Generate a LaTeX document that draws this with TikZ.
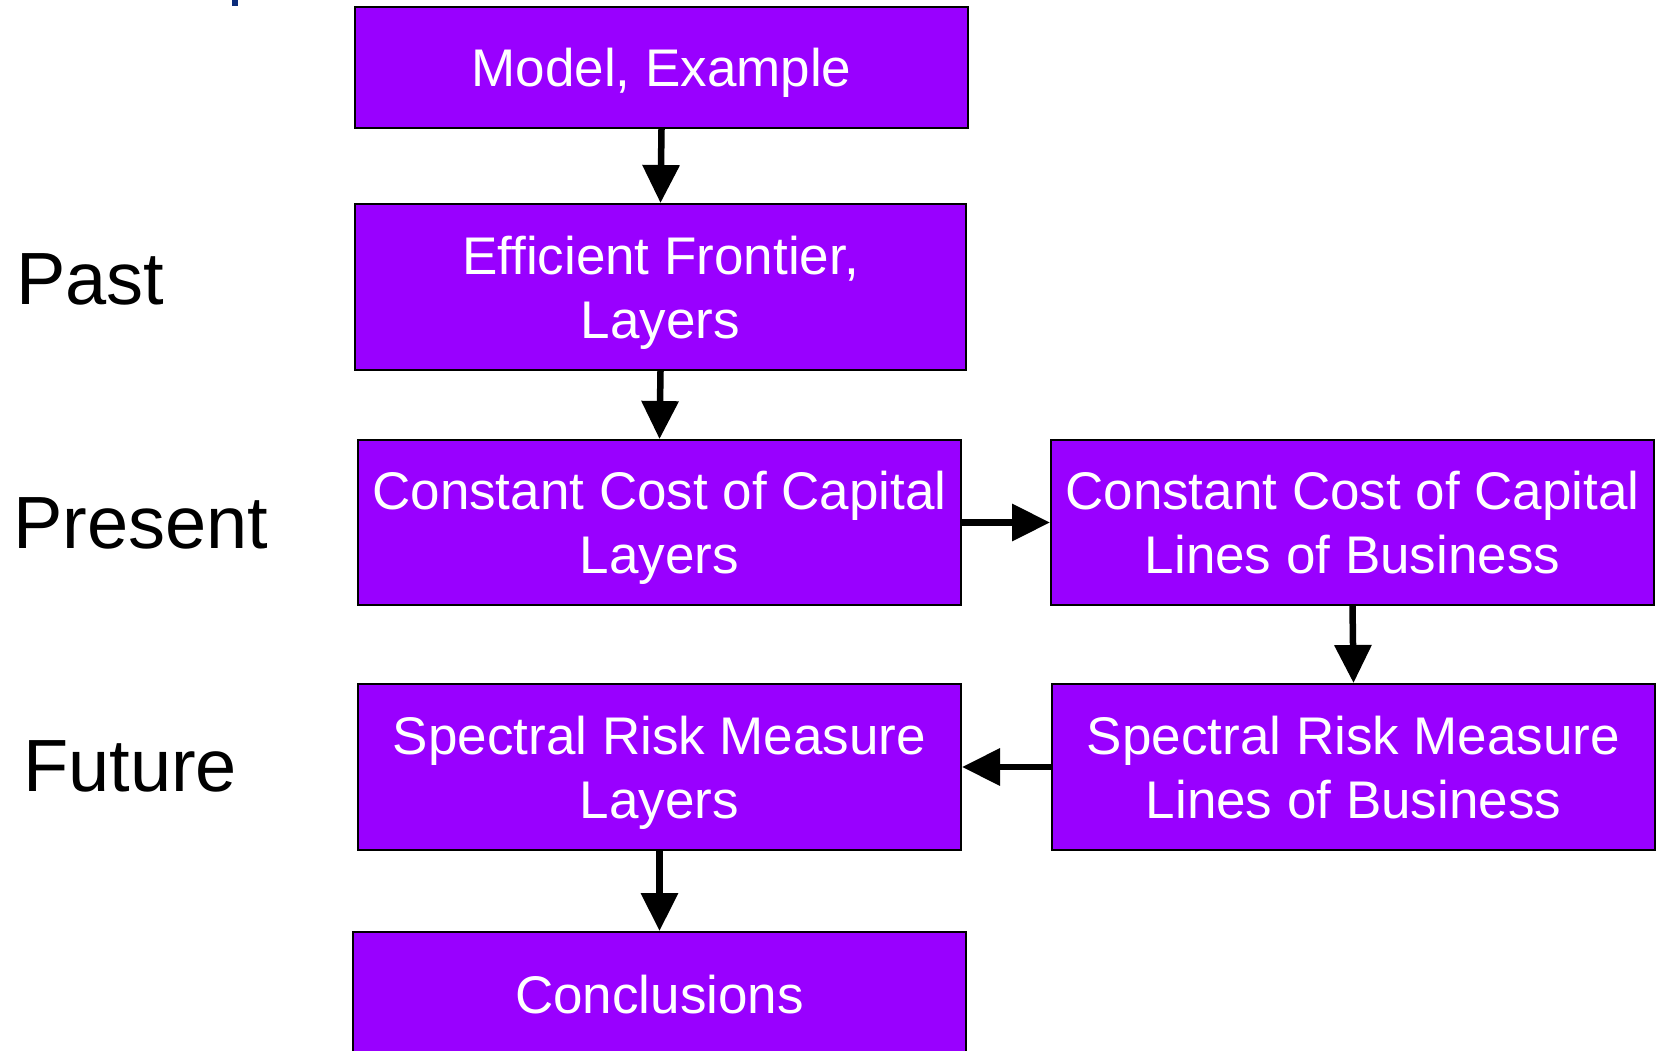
\documentclass[tikz,border=0pt]{standalone}
\usepackage{fontspec}
\setmainfont{Liberation Sans}
\usetikzlibrary{arrows.meta}
\definecolor{boxviolet}{HTML}{9900FF}
\definecolor{titlenavy}{HTML}{0B2C7A}
\begin{document}
\begin{tikzpicture}[x=1pt,y=-1pt,
  stagebox/.style={draw=black,line width=2pt,fill=boxviolet,text=white,
    inner sep=0pt,align=center,text depth=0pt,font=\fontsize{53}{64}\selectfont},
  era/.style={anchor=base west,inner sep=0pt,font=\fontsize{74}{80}\selectfont},
  flow/.style={line width=6.5pt,-{Triangle[length=38pt,width=36pt]}}]
\useasboundingbox (0,0) rectangle (1661,1051);
% fragment of the slide title above the chart
\fill[titlenavy] (232,0) rectangle (238,6.5);

% stages
\node[stagebox,minimum width=613pt,minimum height=121pt] (model) at (661.5,67.7) {Model, Example};
\node[stagebox,minimum width=611pt,minimum height=166pt] (frontier) at (660.5,287) {Efficient Frontier,\\Layers};
\node[stagebox,minimum width=603pt,minimum height=165pt] (ccclay) at (659.5,522.5) {Constant Cost of Capital\\Layers};
\node[stagebox,minimum width=603pt,minimum height=165pt] (ccclob) at (1352.5,522.5) {Constant Cost of Capital\\Lines of Business};
\node[stagebox,minimum width=603pt,minimum height=166pt] (srmlob) at (1353.5,767) {Spectral Risk Measure\\Lines of Business};
\node[stagebox,minimum width=603pt,minimum height=166pt] (srmlay) at (659.5,767) {Spectral Risk Measure\\Layers};
\node[stagebox,minimum width=613pt,minimum height=124pt] (concl) at (659.5,994) {Conclusions};

% time labels
\node[era] (past) at (16,304) {Past};
\node[era] (present) at (13,548) {Present};
\node[era] (future) at (23,791) {Future};

% connectors
\draw[flow] (model.south) -- (frontier.north);
\draw[flow] (frontier.south) -- (ccclay.north);
\draw[flow] (ccclay.east) -- (ccclob.west);
\draw[flow] (ccclob.south) -- (srmlob.north);
\draw[flow] (srmlob.west) -- (srmlay.east);
\draw[flow] (srmlay.south) -- (concl.north);
\end{tikzpicture}
\end{document}
